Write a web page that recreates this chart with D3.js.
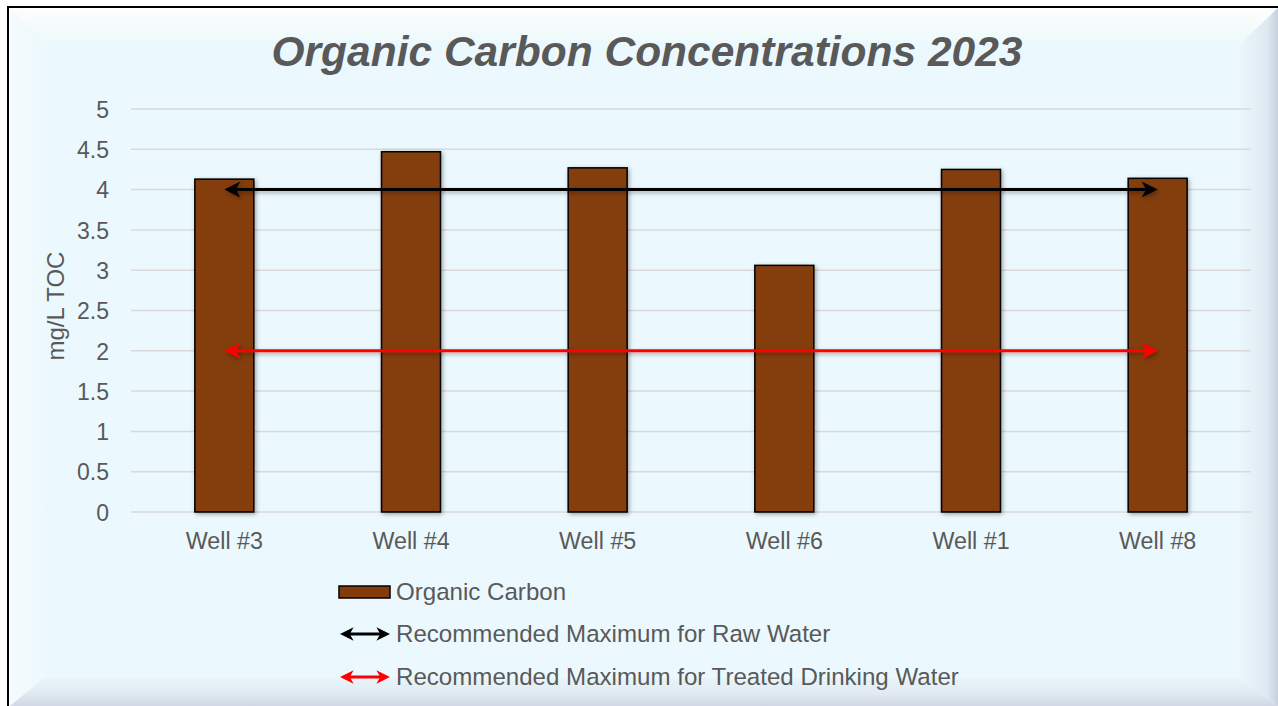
<!DOCTYPE html>
<html>
<head>
<meta charset="utf-8">
<script src="https://cdn.jsdelivr.net/npm/d3@7/dist/d3.min.js"></script>
<style>
  html, body { margin: 0; padding: 0; background: #ffffff; }
  svg { display: block; }
  text { font-family: "Liberation Sans", Arial, sans-serif; }
</style>
</head>
<body>
<svg id="chart" width="1278" height="706"></svg>
<script>
// ---- data ----
const categories = ["Well #3", "Well #4", "Well #5", "Well #6", "Well #1", "Well #8"];
const organicCarbon = [4.13, 4.47, 4.27, 3.06, 4.25, 4.14];
const rawWaterMax = [4, 4];          // from first to last well
const treatedWaterMax = [2, 2];      // from first to last well
const yTicks = [0, 0.5, 1, 1.5, 2, 2.5, 3, 3.5, 4, 4.5, 5];
const yTickLabels = ["0", "0.5", "1", "1.5", "2", "2.5", "3", "3.5", "4", "4.5", "5"];
const titleText = "Organic Carbon Concentrations 2023";
const yAxisTitle = "mg/L TOC";
const legendLabels = ["Organic Carbon", "Recommended Maximum for Raw Water", "Recommended Maximum for Treated Drinking Water"];

// ---- setup ----
const W = 1278, H = 706;
const svg = d3.select("#chart");
const defs = svg.append("defs");

function lg(id, x1, y1, x2, y2, stops) {
  const g = defs.append("linearGradient").attr("id", id)
    .attr("x1", x1).attr("y1", y1).attr("x2", x2).attr("y2", y2);
  stops.forEach(s => g.append("stop").attr("offset", s[0]).attr("stop-color", s[1]));
}
lg("gTop", 0, 0, 0, 1, [[0, "#fdfefd"], [0.6, "#f4fbfb"], [1, "#ebf9fd"]]);
lg("gLeft", 0, 0, 1, 0, [[0, "#f3fbfe"], [1, "#eef9fd"]]);
lg("gRight", 0, 0, 1, 0, [[0, "#eaf6fb"], [0.7, "#e0e9f2"], [1, "#c6d0dd"]]);
lg("gBot", 0, 0, 0, 1, [[0, "#e9f5fa"], [0.6, "#e0e9f1"], [1, "#d0d9e4"]]);

const sh = defs.append("filter").attr("id", "shadow")
  .attr("x", "-20%").attr("y", "-20%").attr("width", "140%").attr("height", "140%");
sh.append("feDropShadow").attr("dx", 1.5).attr("dy", 1.5).attr("stdDeviation", 2.2)
  .attr("flood-color", "#000").attr("flood-opacity", 0.35);
const shL = defs.append("filter").attr("id", "lshadow")
  .attr("x", "-5%").attr("y", "-200%").attr("width", "110%").attr("height", "500%");
shL.append("feDropShadow").attr("dx", 1.5).attr("dy", 2).attr("stdDeviation", 2)
  .attr("flood-color", "#000").attr("flood-opacity", 0.35);

// ---- frame with bevel ----
const fx0 = 10, fy0 = 8, fx1 = W, fy1 = H;
const ix0 = 44, iy0 = 44, ix1 = 1240, iy1 = 678;
svg.append("rect").attr("x", fx0).attr("y", fy0).attr("width", fx1 - fx0).attr("height", fy1 - fy0).attr("fill", "#ebf9fe");
svg.append("polygon").attr("points", [[fx0, fy0], [fx1, fy0], [ix1, iy0], [ix0, iy0]].join(" ")).attr("fill", "url(#gTop)");
svg.append("polygon").attr("points", [[fx0, fy0], [ix0, iy0], [ix0, iy1], [fx0, fy1]].join(" ")).attr("fill", "url(#gLeft)");
svg.append("polygon").attr("points", [[fx1, fy0], [fx1, fy1], [ix1, iy1], [ix1, iy0]].join(" ")).attr("fill", "url(#gRight)");
svg.append("polygon").attr("points", [[fx0, fy1], [ix0, iy1], [ix1, iy1], [fx1, fy1]].join(" ")).attr("fill", "url(#gBot)");
// outer black border (top, left)
svg.append("line").attr("x1", 7).attr("y1", 7).attr("x2", W).attr("y2", 7).attr("stroke", "#000").attr("stroke-width", 2);
svg.append("line").attr("x1", 8).attr("y1", 6).attr("x2", 8).attr("y2", H).attr("stroke", "#000").attr("stroke-width", 2);

// ---- scales ----
const x = d3.scaleBand().domain(categories).range([131, 1251]).paddingInner(0.684).paddingOuter(0.342);
const y = d3.scaleLinear().domain([0, 5]).range([512, 109]);

// ---- gridlines ----
svg.append("g").selectAll("line").data(yTicks).join("line")
  .attr("x1", 131).attr("x2", 1251)
  .attr("y1", d => y(d)).attr("y2", d => y(d))
  .attr("stroke", "#d9d9d9").attr("stroke-width", 1.5);

// ---- y axis labels ----
const yAxis = d3.axisLeft(y).tickValues(yTicks).tickFormat((d, i) => yTickLabels[i]).tickSize(0).tickPadding(0);
const yg = svg.append("g").attr("transform", "translate(109,0)").call(yAxis);
yg.select(".domain").remove();
yg.selectAll("text").attr("font-size", 23).attr("fill", "#595959").attr("font-family", "Liberation Sans, Arial, sans-serif").attr("dy", "0.36em");

// ---- x axis labels ----
const xAxis = d3.axisBottom(x).tickSize(0).tickPadding(0);
const xg = svg.append("g").attr("transform", "translate(0,512)").call(xAxis);
xg.select(".domain").remove();
xg.selectAll("text").attr("font-size", 23.3).attr("fill", "#595959").attr("font-family", "Liberation Sans, Arial, sans-serif").attr("dy", null).attr("y", 37);

// ---- bars ----
svg.append("g").attr("filter", "url(#shadow)").selectAll("rect").data(categories).join("rect")
  .attr("x", d => x(d)).attr("width", x.bandwidth())
  .attr("y", (d, i) => y(organicCarbon[i])).attr("height", (d, i) => y(0) - y(organicCarbon[i]))
  .attr("fill", "#843c0c").attr("stroke", "#000").attr("stroke-width", 1.5);

// ---- arrow helper ----
function doubleArrow(g, x1, x2, yy, color, sw, scale) {
  const s = scale || 1;
  g.append("line").attr("x1", x1 + 8 * s).attr("x2", x2 - 8 * s).attr("y1", yy).attr("y2", yy)
    .attr("stroke", color).attr("stroke-width", sw);
  const hg = g.append("g");
  const ah = (tx, dir) => {
    const L = 16 * s, Hh = 8 * s, notch = 4.5 * s;
    const p = d3.path();
    p.moveTo(tx, yy);
    p.lineTo(tx - dir * L, yy - Hh);
    p.lineTo(tx - dir * (L - notch), yy);
    p.lineTo(tx - dir * L, yy + Hh);
    p.closePath();
    hg.append("path").attr("d", p.toString()).attr("fill", color);
  };
  ah(x1, -1);
  ah(x2, 1);
}

// ---- reference lines ----
const cx = d => x(d) + x.bandwidth() / 2;
const firstC = cx(categories[0]), lastC = cx(categories[categories.length - 1]);
const lineG = svg.append("g").attr("filter", "url(#lshadow)");
doubleArrow(lineG, firstC, lastC, y(rawWaterMax[0]), "#000000", 3);
doubleArrow(lineG, firstC, lastC, y(treatedWaterMax[0]), "#ff0000", 3);

// ---- title ----
svg.append("text").attr("x", 647).attr("y", 66).attr("text-anchor", "middle")
  .attr("font-size", 42.5).attr("font-weight", "bold").attr("font-style", "italic")
  .attr("fill", "#595959").text(titleText);

// ---- y axis title ----
svg.append("text").attr("transform", "translate(64,306) rotate(-90)").attr("text-anchor", "middle")
  .attr("font-size", 24).attr("fill", "#595959").text(yAxisTitle);

// ---- legend ----
const leg = svg.append("g");
leg.append("rect").attr("x", 339).attr("y", 586).attr("width", 51).attr("height", 12)
  .attr("fill", "#843c0c").attr("stroke", "#000").attr("stroke-width", 1.5);
doubleArrow(leg, 340, 390, 634, "#000000", 3, 0.85);
doubleArrow(leg, 340, 390, 677, "#ff0000", 3, 0.85);
const legY = [600, 642, 684.5];
legendLabels.forEach((t, i) => {
  leg.append("text").attr("x", 396).attr("y", legY[i]).attr("font-size", 24.1).attr("fill", "#595959").text(t);
});
</script>
</body>
</html>
